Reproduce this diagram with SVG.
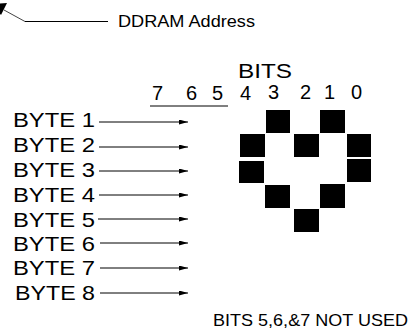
<svg xmlns="http://www.w3.org/2000/svg" width="412" height="330" viewBox="0 0 412 330">
<style>
text{font-family:"Liberation Sans",Arial,sans-serif;fill:#000}
.lbl{font-size:21px}
.dig{font-size:20px}
.ln{stroke:#000;stroke-width:1;fill:none}
.sq{fill:#000}
</style>
<defs>
<marker id="ah" viewBox="0 0 9 5" refX="9" refY="2.5" markerWidth="9" markerHeight="5" markerUnits="userSpaceOnUse" orient="auto">
<path d="M0,0 L9,2.5 L0,5 Z" fill="#000"/>
</marker>
</defs>
<g id="ddram">
<polygon points="7,3 1,15 -7,4" fill="#000"/>
<line x1="4" y1="10" x2="25" y2="21.5" stroke="#444" stroke-width="1"/>
<line x1="25" y1="21.5" x2="108" y2="21.5" class="ln"/>
<text x="118" y="27" style="font-size:17px" textLength="137" lengthAdjust="spacingAndGlyphs">DDRAM Address</text>
</g>
<g id="bits-header">
<text x="238" y="78" class="lbl" textLength="54" lengthAdjust="spacingAndGlyphs">BITS</text>
<text x="152" y="100" class="dig">7</text>
<text x="186" y="100" class="dig">6</text>
<text x="212" y="100" class="dig">5</text>
<text x="240" y="100" class="dig">4</text>
<text x="268" y="99" class="dig">3</text>
<text x="300" y="99" class="dig">2</text>
<text x="324" y="99" class="dig">1</text>
<text x="351" y="99" class="dig">0</text>
<line x1="150" y1="106" x2="228" y2="106" class="ln"/>
</g>
<g id="bytes">
<text x="13" y="127" class="lbl" textLength="82" lengthAdjust="spacingAndGlyphs">BYTE 1</text>
<text x="13" y="152" class="lbl" textLength="82" lengthAdjust="spacingAndGlyphs">BYTE 2</text>
<text x="13" y="177" class="lbl" textLength="82" lengthAdjust="spacingAndGlyphs">BYTE 3</text>
<text x="13" y="202" class="lbl" textLength="82" lengthAdjust="spacingAndGlyphs">BYTE 4</text>
<text x="13" y="227" class="lbl" textLength="82" lengthAdjust="spacingAndGlyphs">BYTE 5</text>
<text x="13" y="251" class="lbl" textLength="82" lengthAdjust="spacingAndGlyphs">BYTE 6</text>
<text x="13" y="275" class="lbl" textLength="82" lengthAdjust="spacingAndGlyphs">BYTE 7</text>
<text x="15" y="300" class="lbl" textLength="80" lengthAdjust="spacingAndGlyphs">BYTE 8</text>
</g>
<g id="connectors">
<line x1="99" y1="122" x2="188" y2="122" class="ln" marker-end="url(#ah)"/>
<line x1="99" y1="147" x2="188" y2="147" class="ln" marker-end="url(#ah)"/>
<line x1="99" y1="171" x2="188" y2="171" class="ln" marker-end="url(#ah)"/>
<line x1="99" y1="195" x2="188" y2="195" class="ln" marker-end="url(#ah)"/>
<line x1="98" y1="219" x2="188" y2="219" class="ln" marker-end="url(#ah)"/>
<line x1="100" y1="243" x2="188" y2="243" class="ln" marker-end="url(#ah)"/>
<line x1="100" y1="268" x2="188" y2="268" class="ln" marker-end="url(#ah)"/>
<line x1="100" y1="293" x2="188" y2="293" class="ln" marker-end="url(#ah)"/>
</g>
<g id="heart">
<rect x="266" y="110" width="24" height="23" class="sq"/>
<rect x="320" y="110" width="25" height="23" class="sq"/>
<rect x="240" y="134" width="25" height="23" class="sq"/>
<rect x="294" y="134" width="25" height="23" class="sq"/>
<rect x="347" y="134" width="24" height="23" class="sq"/>
<rect x="239" y="161" width="25" height="22" class="sq"/>
<rect x="347" y="159" width="24" height="23" class="sq"/>
<rect x="265" y="185" width="25" height="23" class="sq"/>
<rect x="320" y="184" width="25" height="24" class="sq"/>
<rect x="294" y="209" width="25" height="23" class="sq"/>
</g>
<g id="note">
<text x="213" y="326" style="font-size:17px" textLength="195" lengthAdjust="spacingAndGlyphs">BITS 5,6,&amp;7 NOT USED</text>
</g>
</svg>
